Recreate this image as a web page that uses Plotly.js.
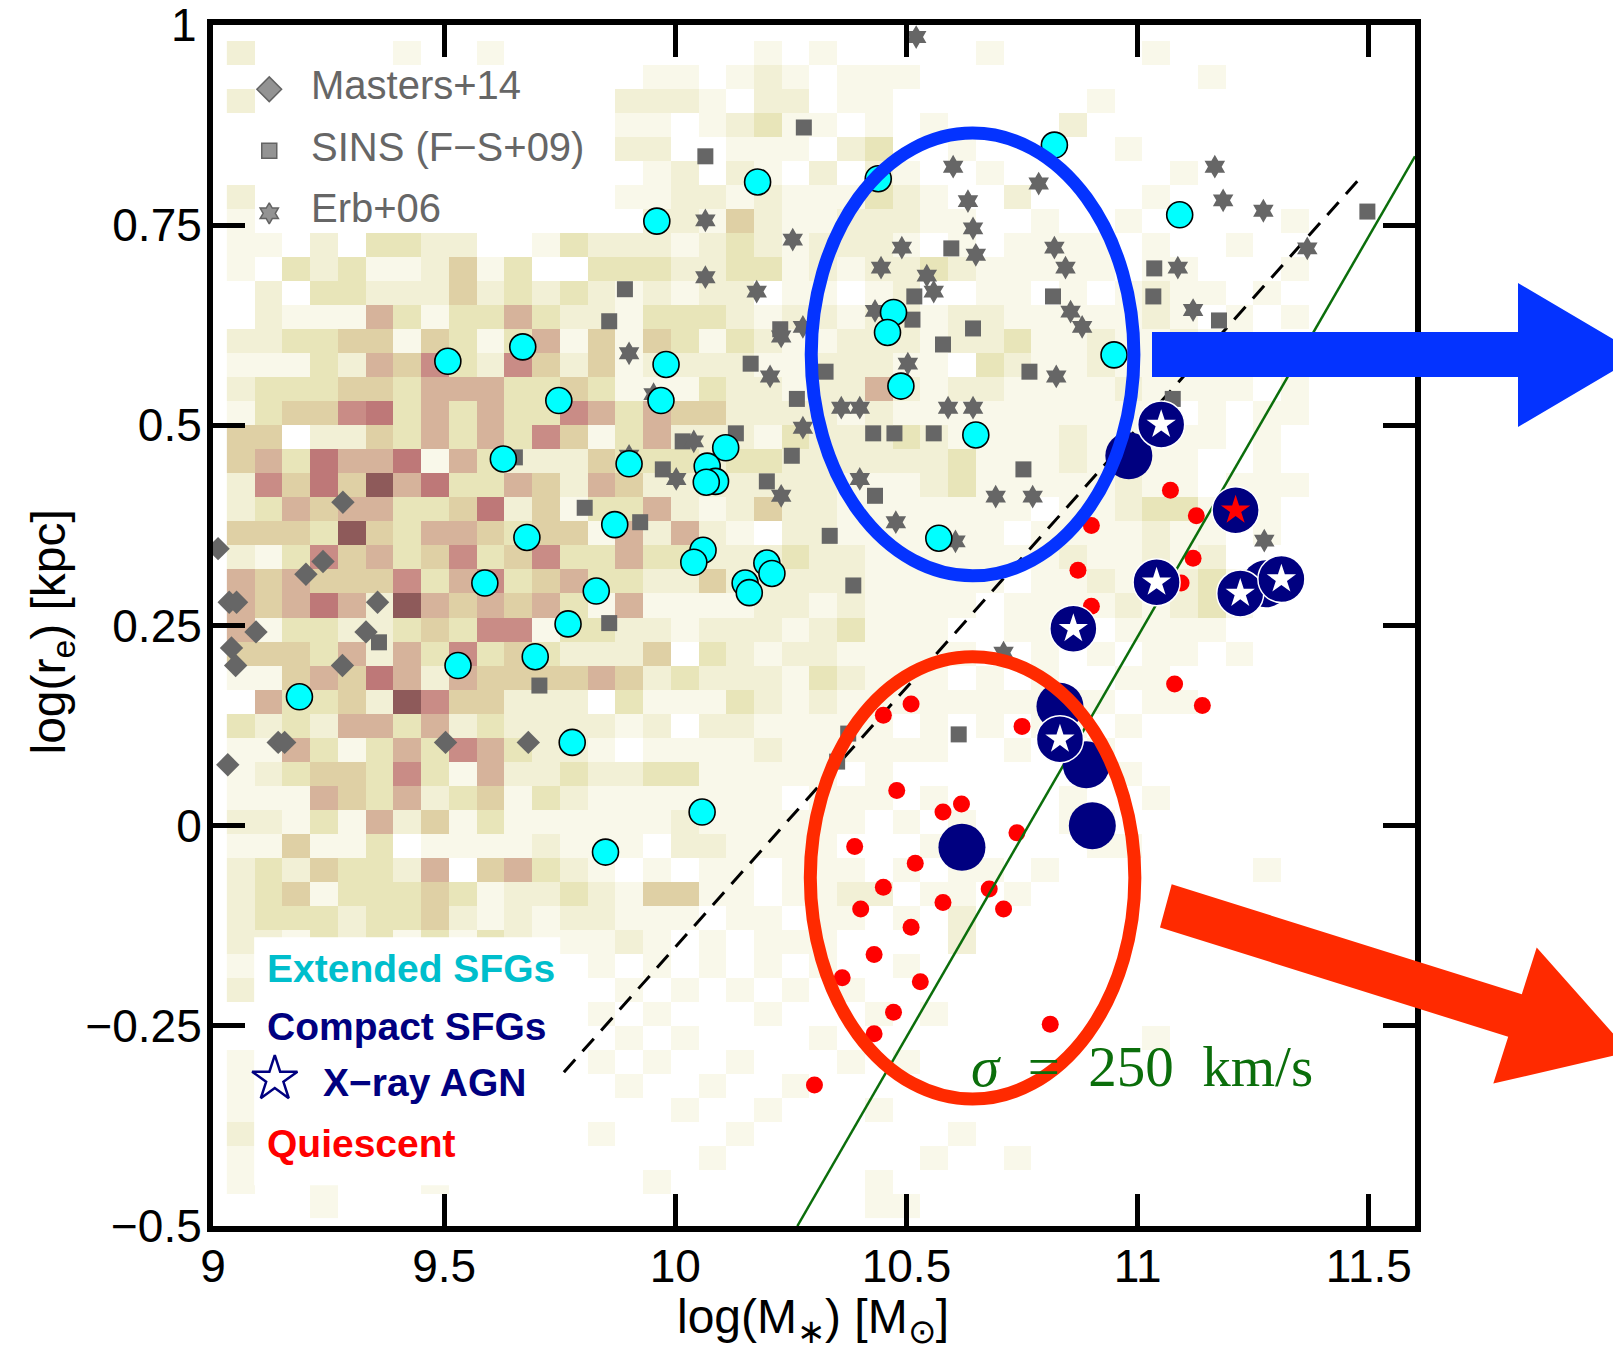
<!DOCTYPE html>
<html><head><meta charset="utf-8">
<script src="https://cdn.plot.ly/plotly-3.0.1.min.js"></script>
<style>html,body{margin:0;padding:0;background:#fff}#chart{width:1613px;height:1349px}</style>
</head><body><div id="chart"></div>
<script>
// ---------------- DATA ----------------
// Extended SFGs (cyan)
const extX = [10.820,10.439,10.178,9.960,11.091,10.472,10.459,10.949,9.670,9.508,9.980,9.969,9.748,10.488,10.650,9.628,9.900,10.109,10.069,10.087,10.067,9.869,9.679,10.570,10.060,10.040,10.198,10.209,10.151,10.160,9.588,9.829,9.768,9.697,9.530,9.187,9.777,10.058,9.849];
const extY = [0.850,0.808,0.804,0.755,0.763,0.641,0.616,0.588,0.598,0.580,0.576,0.531,0.531,0.549,0.488,0.458,0.452,0.472,0.449,0.430,0.429,0.376,0.360,0.359,0.344,0.329,0.328,0.315,0.303,0.291,0.303,0.293,0.252,0.211,0.200,0.161,0.104,0.017,-0.033];
// Compact SFGs (navy), no AGN
const compX = [10.981,10.832,10.889,10.902,10.620,11.277];
const compY = [0.462,0.149,0.076,0.000,-0.027,0.302];
// Compact SFGs hosting X-ray AGN
const agnX = [11.051,11.041,10.861,11.222,11.311,10.832];
const agnY = [0.501,0.304,0.246,0.290,0.308,0.108];
const agnRedX = [11.212];
const agnRedY = [0.394];
// Quiescent (red)
const quiX = [11.071,11.127,10.900,11.120,10.871,11.094,10.900,11.080,11.140,10.510,10.450,10.750,10.479,10.619,10.579,10.739,10.388,10.519,10.450,10.679,10.401,10.710,10.579,10.510,10.430,10.530,10.361,10.472,10.430,10.811,10.301];
const quiY = [0.419,0.387,0.375,0.334,0.319,0.303,0.274,0.177,0.150,0.152,0.138,0.124,0.044,0.027,0.017,-0.009,-0.026,-0.047,-0.077,-0.079,-0.104,-0.104,-0.096,-0.127,-0.161,-0.195,-0.190,-0.233,-0.260,-0.248,-0.324];
// Masters+14 (diamonds)
const masX = [9.011,9.281,9.238,9.201,9.035,9.051,9.356,9.093,9.331,9.040,9.049,9.280,9.141,9.155,9.503,9.682,9.032];
const masY = [0.346,0.404,0.330,0.314,0.279,0.279,0.279,0.242,0.242,0.222,0.200,0.200,0.104,0.104,0.104,0.104,0.076];
// SINS (F-S+09) (squares)
const sinsX = [10.278,10.065,9.891,9.857,10.163,10.227,10.263,10.325,10.131,10.016,10.428,10.474,10.559,10.597,11.036,10.517,10.817,11.034,10.513,10.644,11.176,10.579,10.766,11.497,11.076,9.653,9.804,9.924,9.973,10.252,10.198,10.432,10.334,10.385,9.857,9.359,9.706,10.374,10.350,10.613,10.753];
const sinsY = [0.872,0.836,0.670,0.630,0.577,0.620,0.533,0.567,0.490,0.480,0.490,0.490,0.490,0.721,0.696,0.661,0.661,0.661,0.632,0.621,0.631,0.601,0.567,0.767,0.533,0.460,0.397,0.379,0.445,0.462,0.430,0.412,0.362,0.300,0.253,0.229,0.175,0.115,0.080,0.114,0.445];
// Erb+06 (six-point stars)
const erbX = [10.065,10.254,10.065,10.176,9.900,9.953,10.276,10.229,10.205,10.359,10.399,10.276,10.040,10.432,10.445,10.601,10.786,10.633,10.644,10.490,10.650,10.820,10.844,10.544,10.559,10.855,10.880,10.503,10.824,10.590,10.644,11.167,11.185,11.272,11.087,11.120,11.367,10.521,9.900,10.002,10.399,10.229,10.477,10.693,10.773,10.606,10.710,11.274];
const erbY = [0.756,0.732,0.685,0.667,0.590,0.539,0.623,0.611,0.561,0.522,0.522,0.497,0.480,0.643,0.697,0.823,0.802,0.780,0.746,0.722,0.713,0.722,0.697,0.687,0.667,0.642,0.623,0.577,0.561,0.522,0.522,0.823,0.781,0.768,0.697,0.644,0.721,0.985,0.462,0.433,0.433,0.412,0.379,0.411,0.411,0.355,0.216,0.356];
// Compactness threshold (dashed) and velocity dispersion line (green)
const dashX = [9.759, 11.480];
const dashY = [-0.308, 0.808];
const sigX = [10.264, 11.600];
const sigY = [-0.500, 0.836];
// Axis ticks
const xTicks = [9, 9.5, 10, 10.5, 11, 11.5];
const yTicks = [-0.5, -0.25, 0, 0.25, 0.5, 0.75, 1];
const yTickText = ['−0.5', '−0.25', '0', '0.25', '0.5', '0.75', '1'];
// Background density (2D histogram) levels 0-8, rows from top (y=0.98) to bottom, columns from x=9.03, bins 0.06 x 0.03
const densRows = [
"20000|01001|00000|00001|01000|00100|00010|00000|000",
"00000|00000|00000|11012|10111|00000|00000|10000|000",
"20000|00000|00002|22102|20110|00000|01000|00000|000",
"00000|00000|00001|10123|11010|10000|20000|00000|000",
"00000|00000|00002|20011|10230|01000|00100|00000|000",
"00000|00000|00000|12021|02021|00100|00001|00000|000",
"20000|00000|00001|12212|11132|10020|00010|00000|000",
"10000|00000|00000|22142|11222|11001|00100|00010|000",
"11020|33220|01322|21232|12221|01011|11010|01000|000",
"10323|11241|30033|32233|12122|32111|11011|00010|000",
"02033|22242|32321|21220|11012|00110|10121|10100|000",
"02111|53133|53221|33321|22122|12211|11121|01010|000",
"22334|41431|35141|43132|11222|12231|12112|11000|000",
"11132|54632|64241|22221|12221|10321|12112|10100|000",
"23334|43555|33431|11322|12252|12211|11211|11010|000",
"13446|73535|33653|54422|22121|11111|11110|10110|000",
"44022|43535|36413|52221|32223|21111|21111|10100|000",
"45375|57153|22243|33233|22222|23111|21111|00100|000",
"26474|85733|54254|22222|22111|23111|11211|01110|000",
"23545|53347|24133|52124|22111|11110|11233|11100|000",
"44438|43554|34415|25210|22111|11101|11121|10100|000",
"21364|53463|46335|33222|32211|11111|21121|20000|000",
"54544|46356|34533|22422|22211|11101|12122|31000|000",
"54575|28545|45315|11112|21211|11011|11212|31000|000",
"51332|23436|61332|21222|12311|10011|10111|10000|000",
"44435|25363|43222|40321|22111|11001|01011|01000|000",
"11454|75254|44454|23222|13211|10101|00110|00000|000",
"05334|28644|22203|11132|12111|11111|11011|00000|000",
"32325|53523|22221|20221|11110|10101|10100|00000|000",
"11531|35365|32210|11112|11111|10010|01000|00000|000",
"12344|36315|22322|33111|11010|00000|00100|00000|000",
"11154|35234|13211|11111|01110|10000|10010|00000|000",
"22131|52413|11111|12111|11101|01000|11000|00000|000",
"11411|30111|12111|02211|11000|11000|01100|00000|000",
"23243|32504|53210|10110|11101|01101|00000|00100|000",
"23413|33431|22321|44110|11220|11010|00000|00000|000",
"23332|33421|21221|11011|01101|02000|00000|00000|000",
"22132|31313|21112|10101|11000|02000|00000|00000|000",
"10000|00000|00010|10101|01001|00000|00000|00000|000",
"20000|00000|00001|01010|10100|00000|00000|00000|000",
"00000|00000|00010|10001|00010|10000|00000|00000|000",
"00000|00000|00001|01000|01000|00000|00010|00000|000",
"10000|00000|00010|10010|00101|00000|00000|00000|000",
"10000|00000|00001|00100|10000|00000|00000|00000|000",
"10000|00000|00000|01001|00010|00000|00000|00000|000",
"20000|00000|00010|00010|00000|01000|00000|00000|000",
"10000|00100|00000|00100|00000|10010|00000|00000|000",
"10010|00100|00000|10000|00010|00000|00000|00000|000",
"00010|00000|00000|00000|00011|00000|00000|00000|000"
];
const densColors = ['#F9F8EA','#F2F0D6','#E8E5B9','#DFD0A5','#D6B39B','#C98C86','#BE7878','#8E5A5A'];

// ---------------- BUILD ----------------
const zGrid = densRows.map(s => s.replace(/\|/g,'').split('').map(c => c === '0' ? null : +c)).reverse();
const cscale = [];
densColors.forEach((c,i) => { cscale.push([i/8, c]); cscale.push([(i+1)/8, c]); });

const traces = [
  {type:'heatmap', z:zGrid, x0:9.06, dx:0.06, y0:-0.475, dy:0.03, colorscale:cscale, zmin:0.5, zmax:8.5, showscale:false, hoverinfo:'skip', zsmooth:false},
  // white box behind lower-left legend
  {type:'scatter', mode:'lines', x:[9.089,9.751,9.751,9.089,9.089], y:[-0.1394,-0.1394,-0.449,-0.449,-0.1394], fill:'toself', fillcolor:'#ffffff', line:{width:0}, hoverinfo:'skip'},
  {type:'scatter', mode:'lines', x:dashX, y:dashY, line:{color:'#000', width:3, dash:'17px,11px'}, hoverinfo:'skip'},
  {type:'scatter', mode:'markers', x:quiX, y:quiY, marker:{symbol:'circle', size:17, color:'#FF0000', line:{width:0}}},
  {type:'scatter', mode:'lines', x:sigX, y:sigY, line:{color:'#0b6e0b', width:2.5}, hoverinfo:'skip'},
  {type:'scatter', mode:'markers', x:masX, y:masY, marker:{symbol:'diamond', size:18, color:'#666666', line:{width:0}}},
  {type:'scatter', mode:'markers', x:sinsX, y:sinsY, marker:{symbol:'square', size:16, color:'#666666', line:{width:0}}},
  {type:'scatter', mode:'markers', x:erbX, y:erbY, marker:{symbol:'hexagram', size:18, color:'#666666', line:{width:0}}},
  {type:'scatter', mode:'markers', x:extX, y:extY, marker:{symbol:'circle', size:26, color:'#00FFFF', line:{color:'#000', width:1.6}}},
  {type:'scatter', mode:'markers', x:compX, y:compY, marker:{symbol:'circle', size:47, color:'#000080', line:{width:0}}},
  {type:'scatter', mode:'markers', x:agnX.concat(agnRedX), y:agnY.concat(agnRedY), marker:{symbol:'circle', size:47, color:'#000080', line:{color:'#ffffff', width:1.5}}},
  {type:'scatter', mode:'markers', x:agnX, y:agnY, marker:{symbol:'star', size:22, color:'#ffffff', line:{width:0}}},
  {type:'scatter', mode:'markers', x:agnRedX, y:agnRedY, marker:{symbol:'star', size:22, color:'#FF0000', line:{width:0}}},
  // legend symbols (overlay axes in plot-fraction units)
  {type:'scatter', mode:'markers', xaxis:'x2', yaxis:'y2', cliponaxis:false,
   x:[0.0468,0.0468,0.0468], y:[0.9465,0.8953,0.8432],
   marker:{symbol:['diamond','square','hexagram'], size:[19,15,16], color:'#666666', line:{color:'#222', width:1.5}}},
  {type:'scatter', mode:'markers', xaxis:'x2', yaxis:'y2', cliponaxis:false,
   x:[0.0514], y:[0.1224], marker:{symbol:'star-open', size:34, color:'#000080', line:{color:'#000080', width:2.5}}}
];

const P = (X,Y) => ((X-213)/1202).toFixed(5) + ',' + ((1226-Y)/1201).toFixed(5);
const poly = pts => 'M' + pts.map(p => P(p[0],p[1])).join(' L') + ' Z';
const blueArrow = poly([[1152,332],[1518,332],[1518,283],[1640,355],[1518,427],[1518,377],[1152,377]]);
const redArrow = poly([[1171.7,884.3],[1521.8,994.2],[1536.7,947.5],[1629.4,1052],[1493.3,1083.5],[1508.2,1036.8],[1160,927.4]]);

const tickFont = {size:46, family:'Liberation Sans, Arial, sans-serif', color:'#000'};
const axBase = {ticks:'inside', ticklen:32, tickwidth:5, tickcolor:'#000', showline:true, linewidth:6, linecolor:'#000', mirror:'ticks', showgrid:false, zeroline:false, tickfont:tickFont};

const greyFont = {size:40, family:'Liberation Sans, Arial, sans-serif', color:'#666666'};
const boldFont = c => ({size:39, family:'Liberation Sans, Arial, sans-serif', color:c});

// the top "1" label is placed as an annotation (Plotly drops the edge label)
const yTickTextAxis = yTickText.map((t,i) => i === yTickText.length - 1 ? '' : t);

const layout = {
  width:1613, height:1349,
  margin:{l:213, r:198, t:25, b:123, pad:0},
  paper_bgcolor:'#ffffff', plot_bgcolor:'#ffffff',
  showlegend:false,
  font:{family:'Liberation Sans, Arial, sans-serif', color:'#000'},
  xaxis:Object.assign({range:[9,11.6], tickmode:'array', tickvals:xTicks, ticklabelstandoff:-5}, axBase),
  yaxis:Object.assign({range:[-0.5,1], tickmode:'array', tickvals:yTicks, ticktext:yTickTextAxis, ticklabelstandoff:-4}, axBase),
  xaxis2:{overlaying:'x', range:[0,1], visible:false, fixedrange:true},
  yaxis2:{overlaying:'y', range:[0,1], visible:false, fixedrange:true},
  shapes:[
    {type:'circle', xref:'x', yref:'y', x0:10.294, x1:10.992, y0:0.312, y1:0.865, line:{color:'#0433FF', width:13}, layer:'above'},
    {type:'circle', xref:'x', yref:'y', x0:10.292, x1:10.994, y0:-0.3415, y1:0.2111, line:{color:'#FF2A00', width:13}, layer:'above'},
    {type:'path', xref:'paper', yref:'paper', path:blueArrow, fillcolor:'#0433FF', line:{width:0}, layer:'above'},
    {type:'path', xref:'paper', yref:'paper', path:redArrow, fillcolor:'#FF2A00', line:{width:0}, layer:'above'}
  ],
  annotations:[
    {xref:'paper', yref:'y', x:-0.0125, y:yTicks[yTicks.length-1], text:yTickText[yTickText.length-1], showarrow:false, xanchor:'right', yanchor:'middle', font:tickFont, borderpad:0},
    {xref:'paper', yref:'paper', x:0.4989, y:-0.0783, text:'log(M<sub>∗</sub>) [M<sub>⊙</sub>]', showarrow:false, xanchor:'center', yanchor:'middle', font:{size:48, family:'Liberation Sans, Arial, sans-serif', color:'#000'}},
    {xref:'paper', yref:'paper', x:-0.1339, y:0.4942, text:'log(r<sub>e</sub>) [kpc]', textangle:-90, showarrow:false, xanchor:'center', yanchor:'middle', font:{size:48, family:'Liberation Sans, Arial, sans-serif', color:'#000'}},
    {xref:'paper', yref:'paper', x:0.0799, y:0.950, text:'Masters+14', showarrow:false, xanchor:'left', yanchor:'middle', font:greyFont},
    {xref:'paper', yref:'paper', x:0.0799, y:0.8984, text:'SINS (F−S+09)', showarrow:false, xanchor:'left', yanchor:'middle', font:greyFont},
    {xref:'paper', yref:'paper', x:0.0799, y:0.8476, text:'Erb+06', showarrow:false, xanchor:'left', yanchor:'middle', font:greyFont},
    {xref:'paper', yref:'paper', x:0.0430, y:0.2148, text:'<b>Extended SFGs</b>', showarrow:false, xanchor:'left', yanchor:'middle', font:boldFont('#00BECC')},
    {xref:'paper', yref:'paper', x:0.0430, y:0.1659, text:'<b>Compact SFGs</b>', showarrow:false, xanchor:'left', yanchor:'middle', font:boldFont('#000080')},
    {xref:'paper', yref:'paper', x:0.0899, y:0.1191, text:'<b>X−ray AGN</b>', showarrow:false, xanchor:'left', yanchor:'middle', font:boldFont('#000080')},
    {xref:'paper', yref:'paper', x:0.0430, y:0.0691, text:'<b>Quiescent</b>', showarrow:false, xanchor:'left', yanchor:'middle', font:boldFont('#FF0000')},
    {xref:'paper', yref:'paper', x:0.6290, y:0.1324, text:'<i>σ</i>\u2002=\u2002250\u2002km/s', showarrow:false, xanchor:'left', yanchor:'middle', font:{size:57, family:'Liberation Serif, DejaVu Serif, serif', color:'#0b6e0b'}}
  ]
};

Plotly.newPlot('chart', traces, layout, {displayModeBar:false, staticPlot:true});
</script>
</body></html>
